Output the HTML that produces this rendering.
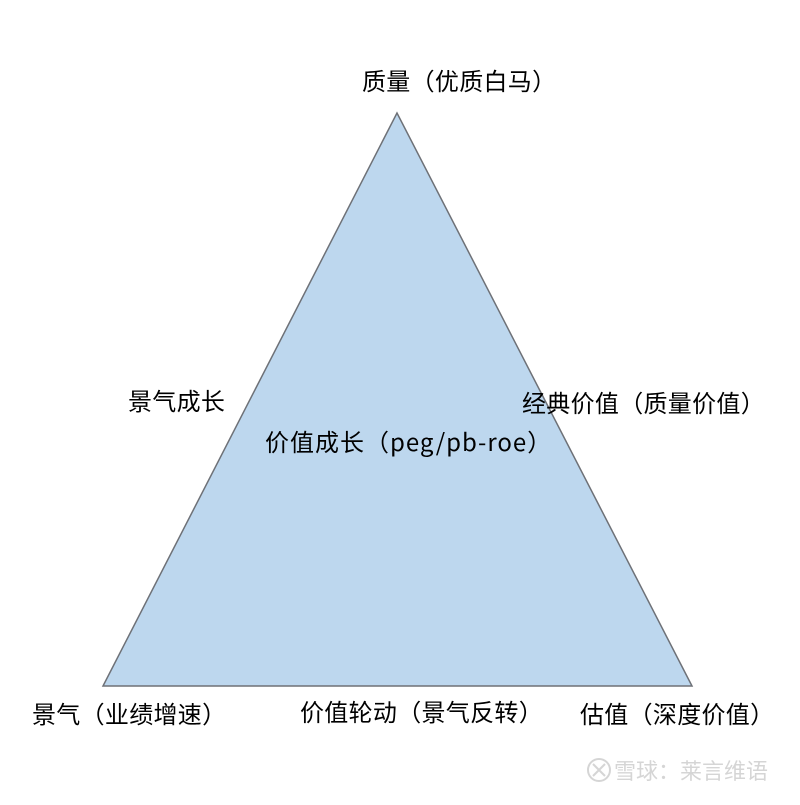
<!DOCTYPE html>
<html><head><meta charset="utf-8"><style>
html,body{margin:0;padding:0;background:#fff;}
svg text{font-family:"Noto Sans CJK SC","Liberation Sans",sans-serif;fill:#000;}
</style></head><body>
<svg width="800" height="800" viewBox="0 0 800 800" xmlns="http://www.w3.org/2000/svg">
<rect width="800" height="800" fill="#fff"/>
<polygon points="397,113 103,686 692,686" fill="#bdd7ee" stroke="#6e7177" stroke-width="1.5"/>
<g font-size="24" letter-spacing="0.3">
<text x="362" y="90">质量（优质白马）</text>
<text x="128" y="410">景气成长</text>
<text x="522" y="412">经典价值（质量价值）</text>
<text x="265" y="451" letter-spacing="1">价值成长（peg/pb-roe）</text>
<text x="32" y="723">景气（业绩增速）</text>
<text x="300" y="721">价值轮动（景气反转）</text>
<text x="580" y="723">估值（深度价值）</text>
</g>
<g opacity="0.35">
<circle cx="599" cy="770" r="11" fill="none" stroke="#888" stroke-width="2"/>
<path d="M593 764 L605 776 M605 764 L593 776" stroke="#888" stroke-width="2"/>
<text x="614" y="779" font-size="22" style="fill:#888">雪球：莱言维语</text>
</g>
</svg>
</body></html>
